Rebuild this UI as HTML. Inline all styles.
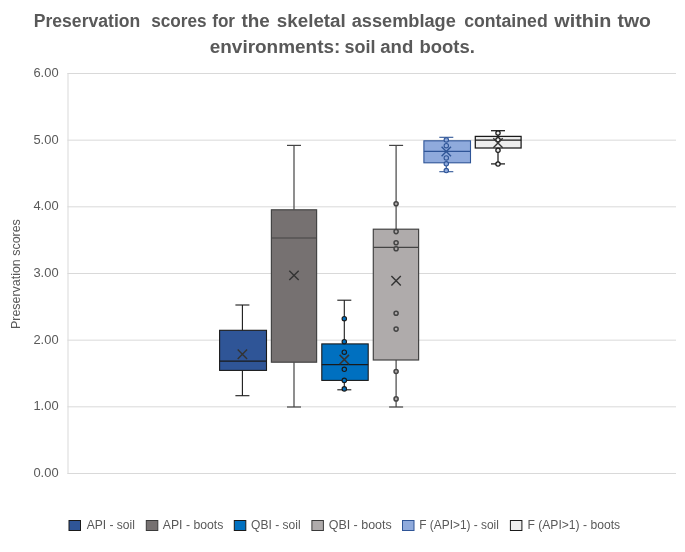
<!DOCTYPE html>
<html><head><meta charset="utf-8"><title>Preservation scores</title>
<style>
html,body{margin:0;padding:0;background:#fff;}
svg{display:block;}
text{font-family:"Liberation Sans", sans-serif;}
</style></head><body>
<svg width="685" height="552" viewBox="0 0 685 552">
<rect width="685" height="552" fill="#fff"/>

<g fill="#595959" font-weight="bold" font-size="18px">
<text y="26.6"><tspan x="33.74" textLength="106.54" lengthAdjust="spacingAndGlyphs">Preservation</tspan> <tspan x="151.17" textLength="55.46" lengthAdjust="spacingAndGlyphs">scores</tspan> <tspan x="212.21" textLength="22.82" lengthAdjust="spacingAndGlyphs">for</tspan> <tspan x="241.5" textLength="28.34" lengthAdjust="spacingAndGlyphs">the</tspan> <tspan x="276.83" textLength="68.92" lengthAdjust="spacingAndGlyphs">skeletal</tspan> <tspan x="351.68" textLength="104.14" lengthAdjust="spacingAndGlyphs">assemblage</tspan> <tspan x="464.18" textLength="83.54" lengthAdjust="spacingAndGlyphs">contained</tspan> <tspan x="554.33" textLength="57.12" lengthAdjust="spacingAndGlyphs">within</tspan> <tspan x="617.47" textLength="33.49" lengthAdjust="spacingAndGlyphs">two</tspan></text>
<text y="52.6"><tspan x="209.74" textLength="130.62" lengthAdjust="spacingAndGlyphs">environments:</tspan> <tspan x="344.53" textLength="30.98" lengthAdjust="spacingAndGlyphs">soil</tspan> <tspan x="380.19" textLength="33.07" lengthAdjust="spacingAndGlyphs">and</tspan> <tspan x="419.49" textLength="55.4" lengthAdjust="spacingAndGlyphs">boots.</tspan></text>
</g>
<g stroke="#D9D9D9" stroke-width="1" fill="none">
<line x1="67.5" y1="473.50" x2="676.0" y2="473.50"/>
<line x1="67.5" y1="406.83" x2="676.0" y2="406.83"/>
<line x1="67.5" y1="340.17" x2="676.0" y2="340.17"/>
<line x1="67.5" y1="273.50" x2="676.0" y2="273.50"/>
<line x1="67.5" y1="206.83" x2="676.0" y2="206.83"/>
<line x1="67.5" y1="140.17" x2="676.0" y2="140.17"/>
<line x1="67.5" y1="73.50" x2="676.0" y2="73.50"/>
<line x1="68.0" y1="73" x2="68.0" y2="474"/>
</g>
<g fill="#595959" font-size="12px">
<text x="33.44" y="476.90" textLength="25.12" lengthAdjust="spacingAndGlyphs">0.00</text>
<text x="33.44" y="410.23" textLength="25.12" lengthAdjust="spacingAndGlyphs">1.00</text>
<text x="33.44" y="343.57" textLength="25.12" lengthAdjust="spacingAndGlyphs">2.00</text>
<text x="33.44" y="276.90" textLength="25.12" lengthAdjust="spacingAndGlyphs">3.00</text>
<text x="33.44" y="210.23" textLength="25.12" lengthAdjust="spacingAndGlyphs">4.00</text>
<text x="33.44" y="143.57" textLength="25.12" lengthAdjust="spacingAndGlyphs">5.00</text>
<text x="33.44" y="76.90" textLength="25.12" lengthAdjust="spacingAndGlyphs">6.00</text>
</g>
<text transform="translate(19.6,274.1) rotate(-90)" fill="#595959" font-size="12px" text-anchor="middle" textLength="109.77" lengthAdjust="spacingAndGlyphs">Preservation scores</text>
<g stroke="#1a1a1a" stroke-width="1.1" fill="none">
<line x1="242.4" y1="305.0" x2="242.4" y2="330.3"/>
<line x1="242.4" y1="370.4" x2="242.4" y2="395.7"/>
<line x1="235.4" y1="305.0" x2="249.4" y2="305.0"/>
<line x1="235.4" y1="395.7" x2="249.4" y2="395.7"/>
<rect x="219.60" y="330.30" width="46.90" height="40.10" fill="#2F5597"/>
<line x1="219.60" y1="361.1" x2="266.50" y2="361.1"/>
<path d="M237.70 349.60L247.10 359.00M237.70 359.00L247.10 349.60" stroke="#333" stroke-width="1.4"/>
</g>
<g stroke="#444" stroke-width="1.2" fill="none">
<line x1="294.0" y1="145.4" x2="294.0" y2="209.8"/>
<line x1="294.0" y1="362.2" x2="294.0" y2="407.0"/>
<line x1="287.0" y1="145.4" x2="301.0" y2="145.4"/>
<line x1="287.0" y1="407.0" x2="301.0" y2="407.0"/>
<rect x="271.40" y="209.80" width="45.20" height="152.40" fill="#767171"/>
<line x1="271.40" y1="238.0" x2="316.60" y2="238.0"/>
<path d="M289.30 270.70L298.70 280.10M289.30 280.10L298.70 270.70" stroke="#333" stroke-width="1.4"/>
</g>
<g stroke="#1a1a1a" stroke-width="1.1" fill="none">
<line x1="344.3" y1="300.2" x2="344.3" y2="343.9"/>
<line x1="344.3" y1="380.4" x2="344.3" y2="389.8"/>
<line x1="337.3" y1="300.2" x2="351.3" y2="300.2"/>
<line x1="337.3" y1="389.8" x2="351.3" y2="389.8"/>
<rect x="321.80" y="343.90" width="46.40" height="36.50" fill="#0070C0"/>
<line x1="321.80" y1="364.6" x2="368.20" y2="364.6"/>
<circle cx="344.3" cy="318.7" r="2.2" stroke-width="1.15" fill="#0070C0"/>
<circle cx="344.3" cy="341.7" r="2.2" stroke-width="1.15" fill="#0070C0"/>
<circle cx="344.3" cy="352.2" r="2.2" stroke-width="1.15" fill="#0070C0"/>
<circle cx="344.3" cy="369.3" r="2.2" stroke-width="1.15" fill="#0070C0"/>
<circle cx="344.3" cy="380.4" r="2.2" stroke-width="1.15" fill="#0070C0"/>
<circle cx="344.3" cy="388.9" r="2.2" stroke-width="1.15" fill="#0070C0"/>
<path d="M339.60 354.90L349.00 364.30M339.60 364.30L349.00 354.90" stroke="#333" stroke-width="1.6"/>
</g>
<g stroke="#444" stroke-width="1.2" fill="none">
<line x1="396.1" y1="145.4" x2="396.1" y2="229.2"/>
<line x1="396.1" y1="360.0" x2="396.1" y2="407.0"/>
<line x1="389.1" y1="145.4" x2="403.1" y2="145.4"/>
<line x1="389.1" y1="407.0" x2="403.1" y2="407.0"/>
<rect x="373.30" y="229.20" width="45.30" height="130.80" fill="#AFABAB"/>
<line x1="373.30" y1="247.4" x2="418.60" y2="247.4"/>
<circle cx="396.1" cy="203.8" r="2.05" stroke-width="1.5" fill="#AFABAB"/>
<circle cx="396.1" cy="231.6" r="2.05" stroke-width="1.5" fill="#AFABAB"/>
<circle cx="396.1" cy="242.8" r="2.05" stroke-width="1.5" fill="#AFABAB"/>
<circle cx="396.1" cy="248.8" r="2.05" stroke-width="1.5" fill="#AFABAB"/>
<circle cx="396.1" cy="313.2" r="2.05" stroke-width="1.5" fill="#AFABAB"/>
<circle cx="396.1" cy="329.1" r="2.05" stroke-width="1.5" fill="#AFABAB"/>
<circle cx="396.1" cy="371.5" r="2.05" stroke-width="1.5" fill="#AFABAB"/>
<circle cx="396.1" cy="398.9" r="2.05" stroke-width="1.5" fill="#AFABAB"/>
<path d="M391.40 276.10L400.80 285.50M391.40 285.50L400.80 276.10" stroke="#333" stroke-width="1.4"/>
</g>
<g stroke="#2F5597" stroke-width="1.1" fill="none">
<line x1="446.3" y1="137.3" x2="446.3" y2="140.8"/>
<line x1="446.3" y1="162.8" x2="446.3" y2="171.7"/>
<line x1="439.3" y1="137.3" x2="453.3" y2="137.3"/>
<line x1="439.3" y1="171.7" x2="453.3" y2="171.7"/>
<rect x="423.90" y="140.80" width="46.60" height="22.00" fill="#8FAADC"/>
<line x1="423.90" y1="151.4" x2="470.50" y2="151.4"/>
<circle cx="446.3" cy="139.9" r="2.2" stroke-width="1.1" fill="#8FAADC"/>
<circle cx="446.3" cy="145.7" r="2.2" stroke-width="1.1" fill="#8FAADC"/>
<circle cx="446.3" cy="157.9" r="2.2" stroke-width="1.1" fill="#8FAADC"/>
<circle cx="446.3" cy="163.8" r="2.2" stroke-width="1.1" fill="#8FAADC"/>
<circle cx="446.3" cy="170.6" r="2.2" stroke-width="1.1" fill="#8FAADC"/>
<path d="M441.60 146.80L451.00 156.20M441.60 156.20L451.00 146.80" stroke="#2F5597" stroke-width="1.4"/>
</g>
<g stroke="#1a1a1a" stroke-width="1.25" fill="none">
<line x1="498.0" y1="130.7" x2="498.0" y2="136.4"/>
<line x1="498.0" y1="148.0" x2="498.0" y2="163.9"/>
<line x1="491.0" y1="130.7" x2="505.0" y2="130.7"/>
<line x1="491.0" y1="163.9" x2="505.0" y2="163.9"/>
<rect x="475.30" y="136.40" width="45.80" height="11.60" fill="#EDEDED"/>
<line x1="475.30" y1="140.0" x2="521.10" y2="140.0"/>
<circle cx="498.0" cy="133.0" r="2.15" stroke-width="1.25" fill="#EDEDED"/>
<circle cx="498.0" cy="139.7" r="2.15" stroke-width="1.25" fill="#EDEDED"/>
<circle cx="498.0" cy="150.3" r="2.15" stroke-width="1.25" fill="#EDEDED"/>
<circle cx="498.0" cy="163.9" r="2.15" stroke-width="1.25" fill="#EDEDED"/>
<path d="M493.30 138.30L502.70 147.70M493.30 147.70L502.70 138.30" stroke="#333" stroke-width="1.4"/>
</g>
<g font-size="12px" fill="#595959">
<rect x="69.0" y="520.5" width="11.5" height="10" fill="#2F5597" stroke="#1a1a1a" stroke-width="1"/>
<text x="86.65" y="528.8" textLength="48.3" lengthAdjust="spacingAndGlyphs">API - soil</text>
<rect x="146.3" y="520.5" width="11.5" height="10" fill="#767171" stroke="#3a3a3a" stroke-width="1"/>
<text x="162.79" y="528.8" textLength="60.6" lengthAdjust="spacingAndGlyphs">API - boots</text>
<rect x="234.3" y="520.5" width="11.5" height="10" fill="#0070C0" stroke="#1a1a1a" stroke-width="1"/>
<text x="251.07" y="528.8" textLength="49.51" lengthAdjust="spacingAndGlyphs">QBI - soil</text>
<rect x="311.9" y="520.5" width="11.5" height="10" fill="#AFABAB" stroke="#3a3a3a" stroke-width="1"/>
<text x="328.69" y="528.8" textLength="63.05" lengthAdjust="spacingAndGlyphs">QBI - boots</text>
<rect x="402.5" y="520.5" width="11.5" height="10" fill="#8FAADC" stroke="#2F5597" stroke-width="1"/>
<text x="419.25" y="528.8" textLength="79.61" lengthAdjust="spacingAndGlyphs">F (API&gt;1) - soil</text>
<rect x="510.4" y="520.5" width="11.5" height="10" fill="#EDEDED" stroke="#1a1a1a" stroke-width="1"/>
<text x="527.41" y="528.8" textLength="92.68" lengthAdjust="spacingAndGlyphs">F (API&gt;1) - boots</text>
</g>
</svg></body></html>
